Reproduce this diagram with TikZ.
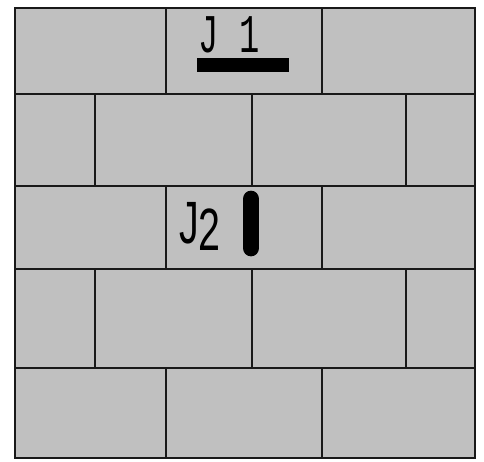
\documentclass[tikz,border=0pt]{standalone}
\usepackage{fontspec}
\setmonofont{Liberation Mono}
\setsansfont{Liberation Sans}
\definecolor{brickgray}{RGB}{192,192,192}

\begin{document}
\begin{tikzpicture}[
  x=0.02cm,y=-0.02cm,
  mortar/.style={draw=black!90,line width=1.6pt},
  joint/.style={fill=black},
  label/.style={inner sep=0pt,anchor=base}
]
  \useasboundingbox (0,0) rectangle (484,461);
  \fill[brickgray] (15,8) rectangle (475,458);

  % courses
  \foreach \y in {94,186,269,368}
    \draw[mortar] (15,\y) -- (475,\y);
  % head joints, long bricks
  \foreach \ya/\yb in {8/94,186/269,368/458}
    \foreach \x in {166,322}
      \draw[mortar] (\x,\ya) -- (\x,\yb);
  % head joints, offset courses
  \foreach \ya/\yb in {94/186,269/368}
    \foreach \x in {95,252,406}
      \draw[mortar] (\x,\ya) -- (\x,\yb);
  \draw[mortar] (15,8) rectangle (475,458);

  % joints
  \node[label,font=\ttfamily\fontsize{31}{31}\selectfont] (j1) at (229,52)
    {\scalebox{0.62}[1]{J 1}};
  \fill[joint] (197,58) rectangle (289,72);

  \node[label,font=\sffamily\fontsize{34}{34}\selectfont] (j2) at (200,243)
    {\scalebox{0.66}[1]{J\raisebox{-4pt}{2}}};
  \draw[line width=9.5pt,line cap=round] (251,199) -- (251,248);
\end{tikzpicture}
\end{document}
